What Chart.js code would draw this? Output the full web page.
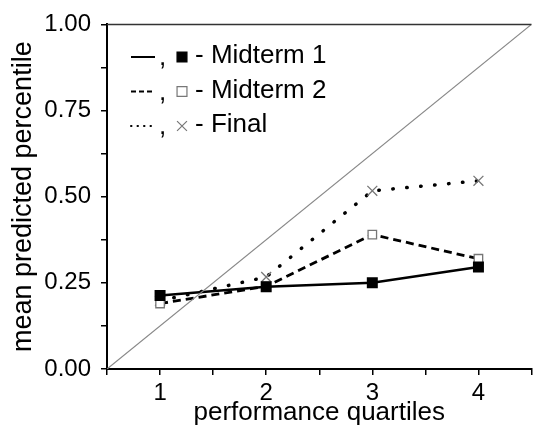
<!DOCTYPE html>
<html>
<head>
<meta charset="utf-8">
<script src="https://cdn.jsdelivr.net/npm/chart.js@4"></script>
<style>
  html, body { margin: 0; padding: 0; background: #fff; overflow: hidden; }
  #wrap { width: 540px; height: 428px; }
</style>
</head>
<body>
<div id="wrap"><canvas id="c" width="540" height="428"></canvas></div>
<script>
// quartiles and mean predicted percentile
const quartiles = [1, 2, 3, 4];
const midterm1 = [0.213, 0.239, 0.250, 0.296];
const midterm2 = [0.190, 0.240, 0.390, 0.320];
const finalExam = [0.198, 0.267, 0.517, 0.546];
const diagonal = [{ x: 0.5, y: 0 }, { x: 4.5, y: 1 }];

const legendRows = [
    { label: 'Midterm 1', dash: [], marker: 'rect', fill: '#000', stroke: '#000' },
    { label: 'Midterm 2', dash: [5, 3], marker: 'rect', fill: '#fff', stroke: '#777' },
    { label: 'Final', dash: [0.5, 6], marker: 'crossRot', fill: '#777', stroke: '#777' },
];

const pts = vals => quartiles.map((q, i) => ({ x: q, y: vals[i] }));
const FONT = 'Arial, "Liberation Sans", sans-serif';

// top frame line + text legend inside the plot
const extras = {
    id: 'extras',
    afterDraw(chart) {
        const { ctx, chartArea: a } = chart;
        ctx.save();
        ctx.strokeStyle = '#333';
        ctx.lineWidth = 1.5;
        ctx.beginPath();
        ctx.moveTo(a.left, a.top);
        ctx.lineTo(a.right, a.top);
        ctx.stroke();

        ctx.font = '26px ' + FONT;
        ctx.textBaseline = 'middle';
        legendRows.forEach((r, i) => {
            const y = 56 + i * 34.5;
            ctx.strokeStyle = '#000';
            ctx.lineWidth = 2;
            ctx.lineCap = r.dash.length && r.dash[0] < 2 ? 'round' : 'butt';
            ctx.setLineDash(r.dash);
            ctx.beginPath();
            ctx.moveTo(131, y + 1);
            ctx.lineTo(155, y + 1);
            ctx.stroke();
            ctx.setLineDash([]);
            ctx.lineCap = 'butt';
            ctx.fillStyle = '#000';
            ctx.fillText(',', 159, y + 2);
            ctx.fillStyle = r.fill;
            ctx.strokeStyle = r.stroke;
            ctx.lineWidth = 1.2;
            Chart.helpers.drawPoint(ctx, { pointStyle: r.marker, radius: 7, rotation: 0, borderWidth: 1.2 }, 182, y + 1);
            ctx.fillStyle = '#000';
            ctx.fillText('- ' + r.label, 195, y);
        });
        ctx.restore();
    }
};

new Chart(document.getElementById('c'), {
    type: 'scatter',
    data: {
        datasets: [
            {
                label: 'diagonal',
                data: diagonal,
                showLine: true,
                borderColor: '#888',
                borderWidth: 1.2,
                pointRadius: 0,
            },
            {
                label: 'Midterm 1',
                data: pts(midterm1),
                showLine: true,
                borderColor: '#000',
                borderWidth: 2.5,
                pointStyle: 'rect',
                pointRadius: 6,
                pointBackgroundColor: '#000',
                pointBorderColor: '#000',
            },
            {
                label: 'Midterm 2',
                data: pts(midterm2),
                showLine: true,
                borderColor: '#000',
                borderWidth: 2.8,
                borderDash: [8, 5],
                pointStyle: 'rect',
                pointRadius: 6,
                pointBackgroundColor: '#fff',
                pointBorderColor: '#777',
                pointBorderWidth: 1.3,
            },
            {
                label: 'Final',
                data: pts(finalExam),
                showLine: true,
                borderColor: '#000',
                borderWidth: 3.5,
                borderDash: [0.5, 13.5],
                borderCapStyle: 'round',
                pointStyle: 'crossRot',
                pointRadius: 7,
                pointBorderColor: '#777',
                pointBorderWidth: 1.3,
            },
        ]
    },
    options: {
        responsive: false,
        animation: false,
        layout: { padding: { top: 21, left: 0, right: 0, bottom: 0 } },
        plugins: { legend: { display: false }, tooltip: { enabled: false } },
        scales: {
            x: {
                type: 'linear',
                min: 0.5,
                max: 4.5,
                afterFit: s => { s.height = 59; },
                ticks: {
                    stepSize: 0.5,
                    padding: 4,
                    color: '#000',
                    font: { family: FONT, size: 24 },
                    callback: v => Number.isInteger(v) ? String(v) : '',
                },
                grid: { drawOnChartArea: false, tickLength: 6, color: '#000', lineWidth: 1.5 },
                border: { color: '#000', width: 2 },
                title: {
                    display: true,
                    text: 'performance quartiles',
                    color: '#000',
                    font: { family: FONT, size: 26 },
                    padding: { top: 0, bottom: 0 },
                },
            },
            y: {
                min: 0,
                max: 1,
                afterFit: s => { s.width = 107; },
                ticks: {
                    stepSize: 0.125,
                    padding: 10,
                    color: '#000',
                    font: { family: FONT, size: 24 },
                    callback: v => Math.round(v * 8) % 2 === 0 ? v.toFixed(2) : '',
                },
                grid: { drawOnChartArea: false, tickLength: 6, color: '#000', lineWidth: 1.5 },
                border: { color: '#000', width: 2 },
                title: {
                    display: true,
                    text: 'mean predicted percentile',
                    color: '#000',
                    font: { family: FONT, size: 27 },
                    padding: { top: 7, bottom: 0 },
                },
            }
        }
    },
    plugins: [extras]
});
</script>
</body>
</html>
